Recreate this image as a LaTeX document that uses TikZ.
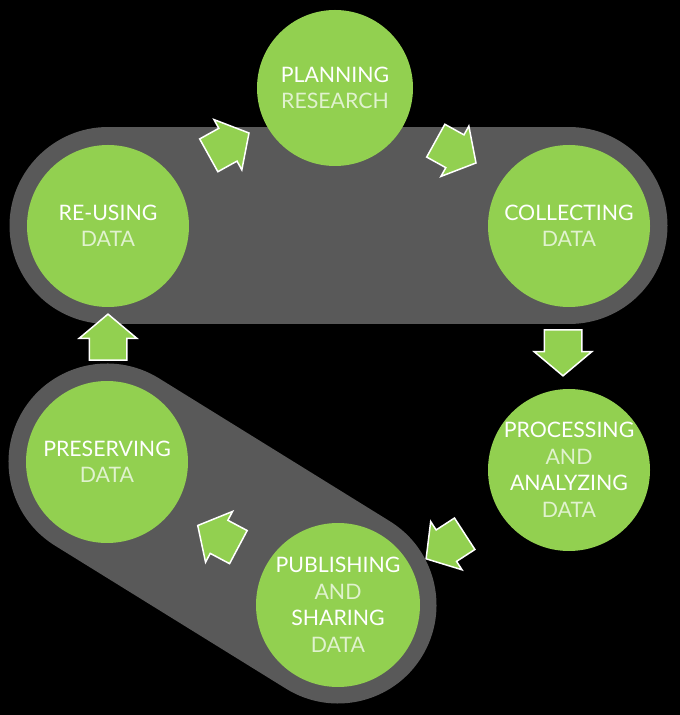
\documentclass[tikz,border=0pt]{standalone}
\usepackage{fontspec}
\setmainfont{Lato}
\usepackage{xcolor}
\usepackage{tikz}
\usetikzlibrary{shapes.arrows}

\definecolor{leaf}{HTML}{92D050}
\definecolor{bandgray}{HTML}{595959}
\colorlet{paletext}{white!72!leaf}
\newcommand{\palepart}[1]{\textcolor{paletext}{#1}}

\begin{document}
\begin{tikzpicture}[x=1pt,y=1pt,
	stage/.style={circle,fill=leaf,minimum size=162pt,inner sep=0pt},
	caption/.style={align=center,text=white,font=\fontsize{21.3}{26.5}\selectfont},
	flow/.style={single arrow,draw=white,fill=leaf,line width=1.5pt,
		inner xsep=0pt,inner ysep=18pt,minimum height=46pt,minimum width=57pt,
		single arrow head extend=10pt,single arrow tip angle=100},
	ring/.style={draw=bandgray,line width=197pt,line cap=round}]
		
		\fill[black] (0,0) rectangle (680,715);
		
		\coordinate (planC) at (335,627);
		\coordinate (reuseC) at (108,489);
		\coordinate (collectC) at (569,489);
		\coordinate (processC) at (569,245);
		\coordinate (publishC) at (338,110);
		\coordinate (preserveC) at (107,253);
		
		\draw[ring] (reuseC) -- (collectC);
		\draw[ring] (preserveC) -- (publishC);
		
		\node[stage,minimum size=156pt,label={[caption]center:{PLANNING\\\palepart{RESEARCH}}}] (plan) at (planC) {};
		\node[stage,label={[caption]center:{RE-USING\\\palepart{DATA}}}] (reuse) at (reuseC) {};
		\node[stage,label={[caption]center:{COLLECTING\\\palepart{DATA}}}] (collect) at (collectC) {};
		\node[stage,label={[caption]center:{PROCESSING\\\palepart{AND}\\ANALYZING\\\palepart{DATA}}}] (process) at (processC) {};
		\node[stage,minimum size=164pt,label={[caption]center:{PUBLISHING\\\palepart{AND}\\SHARING\\\palepart{DATA}}}] (publish) at (publishC) {};
		\node[stage,label={[caption]center:{PRESERVING\\\palepart{DATA}}}] (preserve) at (preserveC) {};
		
		\node[flow,rotate=29] (reuse-plan) at (222,567) {};
		\node[flow,rotate=-29] (plan-collect) at (449,567) {};
		\node[flow,rotate=-90] (collect-process) at (563,370) {};
		\node[flow,rotate=213] (process-publish) at (452,173) {};
		\node[flow,rotate=152] (publish-preserve) at (225,175) {};
		\node[flow,rotate=90] (preserve-reuse) at (108,370) {};
	\end{tikzpicture}
\end{document}
